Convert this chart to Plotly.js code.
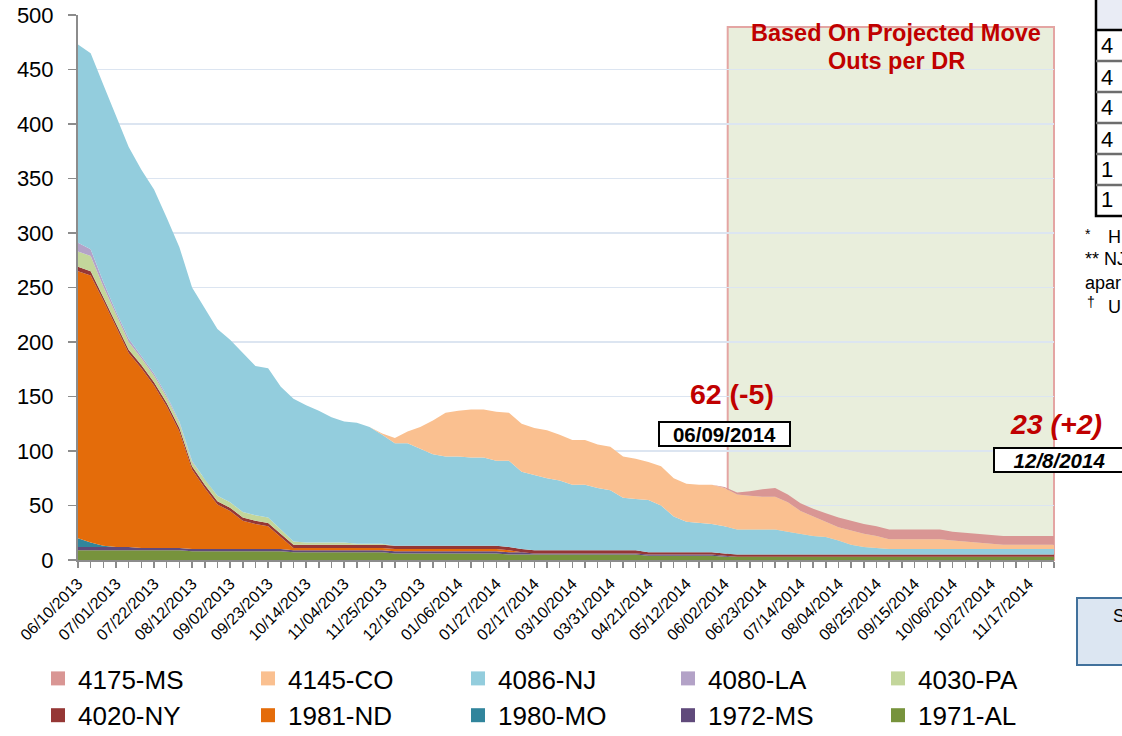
<!DOCTYPE html>
<html>
<head>
<meta charset="utf-8">
<script src="https://cdn.plot.ly/plotly-3.0.1.min.js"></script>
<style>
  html, body { margin: 0; padding: 0; background: #ffffff; }
  #chart { width: 1122px; height: 736px; }
</style>
</head>
<body>
<div id="chart"></div>
<script>
// ---- Data (weekly) ----
const weeks = [
  "2013-06-10","2013-06-17","2013-06-24","2013-07-01","2013-07-08","2013-07-15","2013-07-22","2013-07-29",
  "2013-08-05","2013-08-12","2013-08-19","2013-08-26","2013-09-02","2013-09-09","2013-09-16","2013-09-23",
  "2013-09-30","2013-10-07","2013-10-14","2013-10-21","2013-10-28","2013-11-04","2013-11-11","2013-11-18",
  "2013-11-25","2013-12-02","2013-12-09","2013-12-16","2013-12-23","2013-12-30",
  "2014-01-06","2014-01-13","2014-01-20","2014-01-27","2014-02-03","2014-02-10","2014-02-17","2014-02-24",
  "2014-03-03","2014-03-10","2014-03-17","2014-03-24","2014-03-31","2014-04-07","2014-04-14","2014-04-21",
  "2014-04-28","2014-05-05","2014-05-12","2014-05-19","2014-05-26","2014-06-02","2014-06-09","2014-06-16",
  "2014-06-23","2014-06-30","2014-07-07","2014-07-14","2014-07-21","2014-07-28","2014-08-04","2014-08-11",
  "2014-08-18","2014-08-25","2014-09-01","2014-09-08","2014-09-15","2014-09-22","2014-09-29","2014-10-06",
  "2014-10-13","2014-10-20","2014-10-27","2014-11-03","2014-11-10","2014-11-17","2014-11-24","2014-12-01"
];

const s1971AL = [9,9,9,9,9,9,9,9,9,8,8,8,8,8,8,8,8,7,7,7,7,7,7,7,7,6,6,6,6,6,6,6,6,6,5,5,5,5,5,5,5,5,5,5,5,4,4,4,4,4,4,3,3,3,3,3,3,3,3,3,3,3,3,3,3,3,3,3,3,3,3,3,3,3,3,3,3,3];
const s1972MS = [3,3,3,3,3,2,2,2,2,2,2,2,2,2,2,2,2,2,2,2,2,2,2,2,2,2,2,2,2,2,2,2,2,2,2,2,1,1,1,1,1,1,1,1,1,1,1,1,1,1,1,1,0,0,0,0,0,0,0,0,0,0,0,0,0,0,0,0,0,0,0,0,0,0,0,0,0,0];
const s1980MO = [8,4,1,0,0,0,0,0,0,0,0,0,0,0,0,0,0,0,0,0,0,0,0,0,0,0,0,0,0,0,0,0,0,0,0,0,0,0,0,0,0,0,0,0,0,0,0,0,0,0,0,0,0,0,0,0,0,0,0,0,0,0,0,0,0,0,0,0,0,0,0,0,0,0,0,0,0,0];
const s1981ND = [245,245,225,202,178,165,149,130,107,73,56,41,35,26,23,21,11,2,2,2,2,2,2,2,2,2,2,2,2,2,2,2,2,2,2,0,0,0,0,0,0,0,0,0,0,0,0,0,0,0,0,0,0,0,0,0,0,0,0,0,0,0,0,0,0,0,0,0,0,0,0,0,0,0,0,0,0,0];
const s4020NY = [4,4,3,3,3,3,3,3,3,3,3,3,3,3,3,3,3,3,3,3,3,3,3,3,3,3,3,3,3,3,3,3,3,3,3,3,3,3,3,3,3,3,3,3,3,2,2,2,2,2,2,2,2,2,2,2,2,2,2,2,2,2,2,2,2,2,2,2,2,2,2,2,2,2,2,2,2,2];
const s4030PA = [14,14,10,8,7,6,6,5,5,4,5,5,5,5,5,5,4,3,2,2,2,2,1,1,1,0,0,0,0,0,0,0,0,0,0,0,0,0,0,0,0,0,0,0,0,0,0,0,0,0,0,0,0,0,0,0,0,0,0,0,0,0,0,0,0,0,0,0,0,0,0,0,0,0,0,0,0,0];
const s4080LA = [8,6,4,3,3,2,2,2,1,1,0,0,0,0,0,0,0,0,0,0,0,0,0,0,0,0,0,0,0,0,0,0,0,0,0,0,0,0,0,0,0,0,0,0,0,0,0,0,0,0,0,0,0,0,0,0,0,0,0,0,0,0,0,0,0,0,0,0,0,0,0,0,0,0,0,0,0,0];
const s4086NJ = [182,180,181,179,176,171,169,163,160,159,157,153,149,146,137,137,131,131,126,121,115,111,111,107,100,94,94,89,84,82,82,81,81,78,79,71,69,66,64,60,60,57,55,48,47,48,43,33,28,27,26,25,23,23,23,23,21,19,17,16,13,9,7,6,5,5,5,5,5,5,5,5,5,5,5,5,5,5];
const s4145CO = [0,0,0,0,0,0,0,0,0,0,0,0,0,0,0,0,0,0,0,0,0,0,0,0,1,5,11,20,31,40,42,44,44,45,44,44,43,44,42,41,41,40,40,38,37,35,36,35,35,35,36,35,32,31,30,30,27,21,18,14,12,13,12,11,9,9,9,9,9,8,7,6,5,4,4,4,4,4];
const s4175MS = [0,0,0,0,0,0,0,0,0,0,0,0,0,0,0,0,0,0,0,0,0,0,0,0,0,0,0,0,0,0,0,0,0,0,0,0,0,0,0,0,0,0,0,0,0,0,0,0,0,0,0,1,2,4,7,8,7,7,7,8,9,9,9,9,9,9,9,9,9,8,8,8,8,8,8,8,8,8];

const seriesNames  = ["1971-AL","1972-MS","1980-MO","1981-ND","4020-NY","4030-PA","4080-LA","4086-NJ","4145-CO","4175-MS"];
const seriesValues = [s1971AL, s1972MS, s1980MO, s1981ND, s4020NY, s4030PA, s4080LA, s4086NJ, s4145CO, s4175MS];
const seriesColors = ["#77933c","#604a7b","#31859c","#e46c0a","#953735","#c3d69b","#b3a2c7","#93cddd","#fac090","#d99694"];
const legendOrder  = ["4175-MS","4145-CO","4086-NJ","4080-LA","4030-PA","4020-NY","1981-ND","1980-MO","1972-MS","1971-AL"];

// ---- geometry helpers (pixel -> paper) ----
const W = 1122, H = 736, ML = 78, MR = 68, MT = 15, MB = 176;
const PW = W - ML - MR, PH = H - MT - MB;
const px = v => (v - ML) / PW;
const py = v => (H - MB - v) / PH;

const FONT = "Liberation Sans, Arial, Helvetica, sans-serif";
const DAY = 86400000;

const traces = seriesNames.map((n, k) => ({
  type: "scatter", mode: "lines", name: n, x: weeks, y: seriesValues[k],
  stackgroup: "one", line: { width: 0, color: seriesColors[k] },
  fillcolor: seriesColors[k], showlegend: false, hoverinfo: "skip"
}));
legendOrder.forEach(n => {
  const k = seriesNames.indexOf(n);
  traces.push({
    type: "scatter", mode: "markers", name: n, x: [null], y: [null],
    marker: { symbol: "square", size: 14, color: seriesColors[k] },
    showlegend: true, hoverinfo: "skip"
  });
});

const red = "#c00000";
const ann = (text, x, y, font, extra) => Object.assign({
  text: text, x: px(x), y: py(y), xref: "paper", yref: "paper", showarrow: false,
  xanchor: "center", yanchor: "middle", font: Object.assign({ family: FONT, color: "#000" }, font)
}, extra || {});

const annotations = [
  ann("Based On Projected Move", 896, 33, { size: 23.5, color: red, weight: "bold" }),
  ann("Outs per DR", 896, 61, { size: 23.5, color: red, weight: "bold" }),
  ann("62 (-5)", 732, 394, { size: 28.5, color: red, weight: "bold" }),
  ann("06/09/2014", 724.5, 434, { size: 20.5, weight: "bold" },
      { bordercolor: "#000", borderwidth: 2, borderpad: 0, bgcolor: "#ffffff", width: 129, height: 22 }),
  ann("<i>23 (+2)</i>", 1056, 424, { size: 28.5, color: red, weight: "bold" }),
  ann("<i>12/8/2014</i>", 1059.5, 460, { size: 20.5, weight: "bold" },
      { bordercolor: "#000", borderwidth: 2, borderpad: 0, bgcolor: "#ffffff", width: 129, height: 22 })
];
// cropped table / footnote fragments on the right edge
const tableCells = ["4","4","4","4","1","1"];
const tableRowY = [46, 77, 108, 139, 170, 200];
tableCells.forEach((t, i) => annotations.push(
  ann(t, 1099, tableRowY[i], { size: 22 }, { xanchor: "left" })));
const notes = [["*", 1083, 234, 14], ["H", 1106, 237, 18], ["** NJ", 1083, 259, 18], ["apar", 1083, 283, 18], ["\u2020", 1085, 302, 14], ["U", 1106, 307, 18]];
notes.forEach(n => annotations.push(
  ann(n[0], n[1], n[2], { size: n[3], color: "#000000" }, { xanchor: "left" })));
annotations.push(ann("S", 1111, 616, { size: 18 }, { xanchor: "left" }));

const shapes = [
  { type: "rect", xref: "paper", yref: "paper", x0: px(727.7), x1: px(1054), y0: 0, y1: py(27),
    fillcolor: "#e9eedc", line: { color: "#e4a5a3", width: 2 }, layer: "below" },
  { type: "rect", xref: "paper", yref: "paper", x0: px(1096), x1: px(1140), y0: py(30), y1: py(-5),
    fillcolor: "#e9ecf5", line: { width: 0 } },
  { type: "rect", xref: "paper", yref: "paper", x0: px(1096), x1: px(1140), y0: py(216), y1: py(-5),
    fillcolor: "rgba(0,0,0,0)", line: { color: "#000", width: 2.5 } },
  { type: "rect", xref: "paper", yref: "paper", x0: px(1077), x1: px(1140), y0: py(665), y1: py(598),
    fillcolor: "#dce6f2", line: { color: "#41719c", width: 2 } }
];
[30, 61, 92, 123, 154, 185].forEach((yy, i) => shapes.push({
  type: "line", xref: "paper", yref: "paper", x0: px(1096), x1: px(1140), y0: py(yy), y1: py(yy),
  line: { color: i === 0 ? "#000" : "#6d6d6d", width: 2.5 }
}));

const layout = {
  width: W, height: H,
  margin: { l: ML, r: MR, t: MT, b: MB, pad: 0, autoexpand: false },
  paper_bgcolor: "#ffffff", plot_bgcolor: "rgba(0,0,0,0)",
  font: { family: FONT, color: "#000" },
  showlegend: true,
  xaxis: {
    type: "date", range: [weeks[0], weeks[weeks.length - 1]],
    tickmode: "linear", tick0: weeks[0], dtick: 21 * DAY, tickformat: "%m/%d/%Y",
    tickangle: -45, tickfont: { family: FONT, size: 16, color: "#000" },
    ticks: "outside", ticklen: 6, tickwidth: 1.5, tickcolor: "#8c8c8c",
    minor: { tick0: weeks[0], dtick: 7 * DAY, ticks: "outside", ticklen: 6, tickwidth: 1.5, tickcolor: "#8c8c8c", showgrid: false },
    showline: true, linecolor: "#8c8c8c", linewidth: 2, showgrid: false, zeroline: false, fixedrange: true,
    automargin: false
  },
  yaxis: {
    range: [0, 500], tickmode: "linear", tick0: 0, dtick: 50,
    tickfont: { family: FONT, size: 22, color: "#000" },
    ticks: "outside", ticklen: 8, tickwidth: 1.5, tickcolor: "#8c8c8c", ticklabelstandoff: 10,
    showline: true, linecolor: "#8c8c8c", linewidth: 2,
    showgrid: true, gridcolor: "#dce5f1", gridwidth: 1.5, zeroline: false, fixedrange: true,
    automargin: false
  },
  legend: {
    orientation: "h", x: px(38), xanchor: "left", y: py(655), yanchor: "top",
    traceorder: "normal",
    font: { family: FONT, size: 26, color: "#000" }, entrywidth: 165, entrywidthmode: "pixels",
    itemwidth: 30, tracegroupgap: 0, bgcolor: "rgba(0,0,0,0)"
  },
  annotations: annotations,
  shapes: shapes
};

Plotly.newPlot("chart", traces, layout, { displayModeBar: false, staticPlot: true });
</script>
</body>
</html>
